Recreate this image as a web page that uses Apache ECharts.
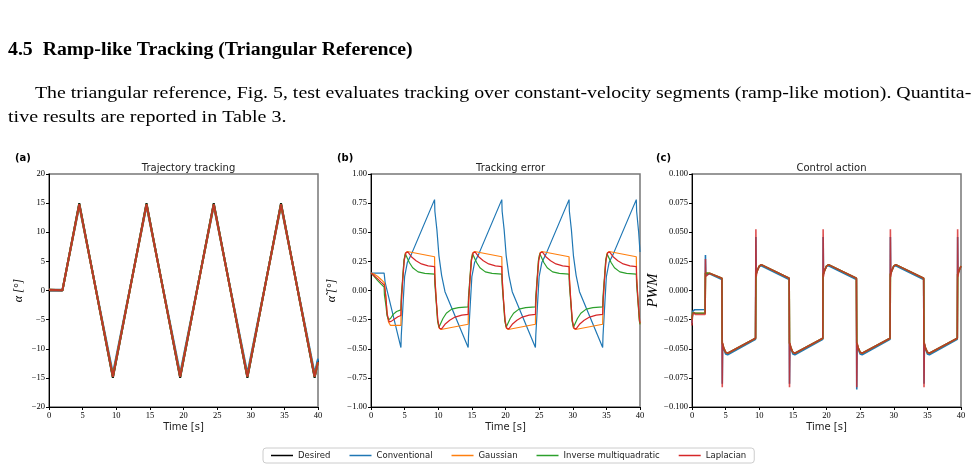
<!DOCTYPE html>
<html>
<head>
<meta charset="utf-8">
<script src="https://cdn.jsdelivr.net/npm/echarts@6/dist/echarts.min.js"></script>
<style>
  html, body { margin: 0; padding: 0; background: #fff; }
  #main { width: 976px; height: 472px; }
</style>
</head>
<body>
<div id="main"></div>
<script>
// (a) trajectory [t, alpha deg]
const desiredA = [[0,0],[2,0],[4.5,15],[9.5,-15],[14.5,15],[19.5,-15],[24.5,15],[29.5,-15],[34.5,15],[39.5,-15],[40,-12]]
const trajConv = [[0,0.15],[2,0.15],[4.5,14.5],[9.5,-14.25],[14.5,14.5],[19.5,-14.25],[24.5,14.5],[29.5,-14.25],[34.5,14.5],[39.5,-14.25],[40,-11.7]]
const trajGauss = [[0,0.15],[2,0.07],[4.5,14.7],[9.5,-14.7],[14.5,14.7],[19.5,-14.7],[24.5,14.7],[29.5,-14.7],[34.5,14.7],[39.5,-14.7],[40,-12.3]]
const trajImq = [[0,0.15],[2,0.03],[4.5,14.85],[9.5,-14.85],[14.5,14.85],[19.5,-14.85],[24.5,14.85],[29.5,-14.85],[34.5,14.85],[39.5,-14.85],[40,-12.3]]
const trajLap = [[0,0.15],[2,0.04],[4.5,14.8],[9.5,-14.8],[14.5,14.8],[19.5,-14.8],[24.5,14.8],[29.5,-14.8],[34.5,14.8],[39.5,-14.8],[40,-12.3]]

// (b) tracking error [t, deg]
const errConv = [[0,0.15],[1.95,0.15],[2.1,0.07],[4.45,-0.49],[4.5,-0.39],[4.8,-0.08],[5.0,0.12],[5.4,0.24],[6.0,0.31],[9.45,0.78],
  [9.5,0.68],[9.8,0.52],[10.1,0.3],[10.5,0.13],[11.0,-0.01],[14.45,-0.49],[14.5,-0.39],[14.8,-0.08],[15.0,0.12],[15.4,0.24],[16.0,0.31],[19.45,0.78],
  [19.5,0.68],[19.8,0.52],[20.1,0.3],[20.5,0.13],[21.0,-0.01],[24.45,-0.49],[24.5,-0.39],[24.8,-0.08],[25.0,0.12],[25.4,0.24],[26.0,0.31],[29.45,0.78],
  [29.5,0.68],[29.8,0.52],[30.1,0.3],[30.5,0.13],[31.0,-0.01],[34.45,-0.49],[34.5,-0.39],[34.8,-0.08],[35.0,0.12],[35.4,0.24],[36.0,0.31],[39.45,0.78],
  [39.5,0.68],[39.8,0.5],[40,0.33]]
const errGauss = [[0,0.15],[0.5,0.14],[1,0.12],[1.5,0.095],[2,0.065],[2.2,-0.05],[2.4,-0.2],[2.6,-0.27],[2.9,-0.3],[4.45,-0.3],
  [4.5,-0.12],[4.7,0.08],[4.9,0.25],[5.1,0.32],[5.4,0.335],[9.45,0.29],
  [9.5,0.12],[9.7,-0.08],[9.9,-0.25],[10.1,-0.32],[10.4,-0.335],[14.45,-0.29],
  [14.5,-0.12],[14.7,0.08],[14.9,0.25],[15.1,0.32],[15.4,0.335],[19.45,0.29],
  [19.5,0.12],[19.7,-0.08],[19.9,-0.25],[20.1,-0.32],[20.4,-0.335],[24.45,-0.29],
  [24.5,-0.12],[24.7,0.08],[24.9,0.25],[25.1,0.32],[25.4,0.335],[29.45,0.29],
  [29.5,0.12],[29.7,-0.08],[29.9,-0.25],[30.1,-0.32],[30.4,-0.335],[34.45,-0.29],
  [34.5,-0.12],[34.7,0.08],[34.9,0.25],[35.1,0.32],[35.4,0.335],[39.45,0.29],
  [39.5,0.12],[39.7,-0.08],[39.9,-0.25],[40,-0.29]]
const errImq = [[0,0.15],[0.5,0.12],[1,0.085],[1.5,0.055],[1.95,0.03],[2.0,-0.04],[2.2,-0.12],[2.4,-0.22],[2.6,-0.25],[2.9,-0.24],[3.3,-0.205],[3.8,-0.18],[4.45,-0.166],
  [4.5,-0.05],[4.7,0.1],[4.9,0.26],[5.1,0.315],[5.3,0.3],[5.7,0.24],[6.2,0.195],[7.0,0.16],[8.0,0.147],[9.45,0.14],
  [9.5,0.05],[9.7,-0.1],[9.9,-0.26],[10.1,-0.315],[10.3,-0.3],[10.7,-0.24],[11.2,-0.195],[12.0,-0.16],[13.0,-0.147],[14.45,-0.14],
  [14.5,-0.05],[14.7,0.1],[14.9,0.26],[15.1,0.315],[15.3,0.3],[15.7,0.24],[16.2,0.195],[17.0,0.16],[18.0,0.147],[19.45,0.14],
  [19.5,0.05],[19.7,-0.1],[19.9,-0.26],[20.1,-0.315],[20.3,-0.3],[20.7,-0.24],[21.2,-0.195],[22.0,-0.16],[23.0,-0.147],[24.45,-0.14],
  [24.5,-0.05],[24.7,0.1],[24.9,0.26],[25.1,0.315],[25.3,0.3],[25.7,0.24],[26.2,0.195],[27.0,0.16],[28.0,0.147],[29.45,0.14],
  [29.5,0.05],[29.7,-0.1],[29.9,-0.26],[30.1,-0.315],[30.3,-0.3],[30.7,-0.24],[31.2,-0.195],[32.0,-0.16],[33.0,-0.147],[34.45,-0.14],
  [34.5,-0.05],[34.7,0.1],[34.9,0.26],[35.1,0.315],[35.3,0.3],[35.7,0.24],[36.2,0.195],[37.0,0.16],[38.0,0.147],[39.45,0.14],
  [39.5,0.05],[39.7,-0.1],[39.9,-0.26],[40,-0.29]]
const errLap = [[0,0.15],[0.5,0.125],[1,0.1],[1.5,0.072],[2,0.045],[2.2,-0.05],[2.4,-0.2],[2.7,-0.27],[3.0,-0.265],[3.5,-0.245],[4.0,-0.225],[4.45,-0.214],
  [4.5,-0.1],[4.7,0.08],[4.95,0.26],[5.2,0.325],[5.5,0.33],[6.0,0.29],[6.7,0.255],[7.5,0.228],[8.5,0.212],[9.45,0.205],
  [9.5,0.1],[9.7,-0.08],[9.95,-0.26],[10.2,-0.325],[10.5,-0.33],[11.0,-0.29],[11.7,-0.255],[12.5,-0.228],[13.5,-0.212],[14.45,-0.205],
  [14.5,-0.1],[14.7,0.08],[14.95,0.26],[15.2,0.325],[15.5,0.33],[16.0,0.29],[16.7,0.255],[17.5,0.228],[18.5,0.212],[19.45,0.205],
  [19.5,0.1],[19.7,-0.08],[19.95,-0.26],[20.2,-0.325],[20.5,-0.33],[21.0,-0.29],[21.7,-0.255],[22.5,-0.228],[23.5,-0.212],[24.45,-0.205],
  [24.5,-0.1],[24.7,0.08],[24.95,0.26],[25.2,0.325],[25.5,0.33],[26.0,0.29],[26.7,0.255],[27.5,0.228],[28.5,0.212],[29.45,0.205],
  [29.5,0.1],[29.7,-0.08],[29.95,-0.26],[30.2,-0.325],[30.5,-0.33],[31.0,-0.29],[31.7,-0.255],[32.5,-0.228],[33.5,-0.212],[34.45,-0.205],
  [34.5,-0.1],[34.7,0.08],[34.95,0.26],[35.2,0.325],[35.5,0.33],[36.0,0.29],[36.7,0.255],[37.5,0.228],[38.5,0.212],[39.45,0.205],
  [39.5,0.1],[39.7,-0.08],[39.95,-0.26],[40,-0.28]]

// (c) control action [t, PWM]
const pwmConv = [[0,-0.028],[0.1,-0.018],[0.4,-0.0165],[1.95,-0.0163],[2.0,0.0305],[2.05,0.013],[2.2,0.0125],[2.6,0.0143],[4.45,0.0095],
  [4.5,-0.08],[4.55,-0.046],[4.7,-0.05],[5.0,-0.0545],[5.3,-0.0552],[9.45,-0.0418],[9.5,0.046],[9.55,0.014],[9.7,0.017],[10.0,0.0205],[10.3,0.0213],[14.45,0.0095],
  [14.5,-0.08],[14.55,-0.046],[14.7,-0.05],[15.0,-0.0545],[15.3,-0.0552],[19.45,-0.0418],[19.5,0.046],[19.55,0.014],[19.7,0.017],[20.0,0.0205],[20.3,0.0213],[24.45,0.0095],
  [24.5,-0.085],[24.55,-0.046],[24.7,-0.05],[25.0,-0.0545],[25.3,-0.0552],[29.45,-0.0418],[29.5,0.046],[29.55,0.014],[29.7,0.017],[30.0,0.0205],[30.3,0.0213],[34.45,0.0095],
  [34.5,-0.08],[34.55,-0.046],[34.7,-0.05],[35.0,-0.0545],[35.3,-0.0552],[39.45,-0.0418],[39.5,0.046],[39.55,0.014],[39.7,0.017],[40,0.0205]]
const pwmRbf = [[0,-0.025],[0.1,-0.019],[0.5,-0.0195],[1.95,-0.0195],[2.0,0.015],[2.6,0.0148],[4.45,0.0105],
  [4.5,-0.045],[4.7,-0.049],[5.0,-0.053],[5.3,-0.0538],[9.45,-0.041],[9.5,0.014],[9.7,0.017],[10.0,0.021],[10.3,0.0222],[14.45,0.0105],
  [14.5,-0.045],[14.7,-0.049],[15.0,-0.053],[15.3,-0.0538],[19.45,-0.041],[19.5,0.014],[19.7,0.017],[20.0,0.021],[20.3,0.0222],[24.45,0.0105],
  [24.5,-0.045],[24.7,-0.049],[25.0,-0.053],[25.3,-0.0538],[29.45,-0.041],[29.5,0.014],[29.7,0.017],[30.0,0.021],[30.3,0.0222],[34.45,0.0105],
  [34.5,-0.045],[34.7,-0.049],[35.0,-0.053],[35.3,-0.0538],[39.45,-0.041],[39.5,0.014],[39.7,0.017],[40,0.021]]
const pwmLap = [[0,-0.03],[0.05,-0.022],[0.2,-0.019],[0.5,-0.0205],[1.95,-0.0205],[2.0,0.027],[2.05,0.012],[2.2,0.012],[2.6,0.0148],[4.45,0.0105],
  [4.5,-0.083],[4.55,-0.045],[4.7,-0.049],[5.0,-0.053],[5.3,-0.0538],[9.45,-0.041],[9.5,0.0525],[9.55,0.012],[9.65,0.016],[10.0,0.021],[10.3,0.0222],[14.45,0.0105],
  [14.5,-0.083],[14.55,-0.045],[14.7,-0.049],[15.0,-0.053],[15.3,-0.0538],[19.45,-0.041],[19.5,0.0525],[19.55,0.012],[19.65,0.016],[20.0,0.021],[20.3,0.0222],[24.45,0.0105],
  [24.5,-0.083],[24.55,-0.045],[24.7,-0.049],[25.0,-0.053],[25.3,-0.0538],[29.45,-0.041],[29.5,0.0525],[29.55,0.012],[29.65,0.016],[30.0,0.021],[30.3,0.0222],[34.45,0.0105],
  [34.5,-0.083],[34.55,-0.045],[34.7,-0.049],[35.0,-0.053],[35.3,-0.0538],[39.45,-0.041],[39.5,0.0525],[39.55,0.012],[39.65,0.016],[40,0.021]]

const legendNames = ['Desired', 'Conventional', 'Gaussian', 'Inverse multiquadratic', 'Laplacian']
const colors = ['#000000', '#1f77b4', '#ff7f0e', '#2ca02c', '#d62728']
const panelTitles = ['Trajectory tracking', 'Tracking error', 'Control action']
const panelTags = ['(a)', '(b)', '(c)']

const gridLeft = [49, 371, 692]
const gridW = 269
const minus = s => s.replace('-', '\u2212')

const chart = echarts.init(document.getElementById('main'))

function xAx(i) {
  return {
    type: 'value', gridIndex: i, min: 0, max: 40, interval: 5,
    name: 'Time [s]', nameLocation: 'middle', nameGap: 15,
    nameTextStyle: { fontFamily: 'DejaVu Sans', fontSize: 10, color: '#222' },
    axisLine: { onZero: false, lineStyle: { color: '#000', width: 1 } },
    axisTick: { length: 3, lineStyle: { color: '#000' } },
    axisLabel: { fontFamily: 'Liberation Serif', fontSize: 8.5, color: '#000', margin: 4 },
    splitLine: { show: false }
  }
}
function yAx(i, min, max, step, dec, name, gap, nameStyle) {
  return {
    type: 'value', gridIndex: i, min: min, max: max, interval: step,
    name: name, nameLocation: 'middle', nameGap: gap,
    nameTextStyle: nameStyle,
    axisLine: { onZero: false, lineStyle: { color: '#000', width: 1 } },
    axisTick: { length: 3, lineStyle: { color: '#000' } },
    axisLabel: { fontFamily: 'Liberation Serif', fontSize: 8.5, color: '#000', margin: 4,
      formatter: v => minus(v.toFixed(dec)) },
    splitLine: { show: false }
  }
}

function line(name, data, gi, width, extra) {
  const ci = legendNames.indexOf(name)
  return Object.assign({
    name: name, type: 'line', data: data, xAxisIndex: gi, yAxisIndex: gi,
    showSymbol: false, symbol: 'none', animation: false,
    lineStyle: { color: colors[ci], width: width },
    itemStyle: { color: colors[ci] }
  }, extra || {})
}

const serifName = { fontFamily: 'Liberation Serif', fontSize: 12, fontStyle: 'italic', color: '#000' }

chart.setOption({
  animation: false,
  title: panelTitles.map((t, i) => ({
    text: t, left: gridLeft[i] + gridW / 2, top: 158, textAlign: 'center',
    textStyle: { fontFamily: 'DejaVu Sans', fontSize: 10, fontWeight: 'normal', color: '#222' }
  })),
  legend: {
    data: legendNames, left: 263, top: 448, padding: [3, 8],
    icon: 'rect', itemWidth: 22, itemHeight: 1.5, itemGap: 19,
    borderColor: '#ccc', borderWidth: 1, borderRadius: 3,
    textStyle: { fontFamily: 'DejaVu Sans', fontSize: 8.5, color: '#222' }
  },
  grid: gridLeft.map(l => ({
    left: l, top: 174, width: gridW, height: 233,
    show: true, borderColor: '#777', borderWidth: 1.5, backgroundColor: 'transparent'
  })),
  xAxis: [xAx(0), xAx(1), xAx(2)],
  yAxis: [
    yAx(0, -20, 20, 5, 0, 'α [°]', 24, serifName),
    yAx(1, -1, 1, 0.25, 2, 'α̃ [°]', 33, serifName),
    yAx(2, -0.1, 0.1, 0.025, 3, 'PWM', 30, Object.assign({}, serifName, { fontSize: 15 }))
  ],
  series: [
    line('Desired', desiredA, 0, 2),
    line('Conventional', trajConv, 0, 2),
    line('Gaussian', trajGauss, 0, 2),
    line('Inverse multiquadratic', trajImq, 0, 2),
    line('Laplacian', trajLap, 0, 2, { lineStyle: { color: colors[4], width: 2, opacity: 0.85 } }),
    line('Conventional', errConv, 1, 1.2),
    line('Gaussian', errGauss, 1, 1.2),
    line('Inverse multiquadratic', errImq, 1, 1.2),
    line('Laplacian', errLap, 1, 1.2),
    line('Conventional', pwmConv, 2, 1.6),
    line('Gaussian', pwmRbf, 2, 1.6),
    line('Inverse multiquadratic', pwmRbf, 2, 1.6),
    line('Laplacian', pwmLap, 2, 1.6, { lineStyle: { color: colors[4], width: 1.6, opacity: 0.8 } })
  ],
  graphic: [
    { type: 'text', x: 8, y: 41, scaleX: 1.07, style: { text: '4.5  Ramp-like Tracking (Triangular Reference)',
      font: 'bold 18.5px "Liberation Serif"', fill: '#000' } },
    { type: 'text', x: 35, y: 84, scaleX: 1.134, style: { text: 'The triangular reference, Fig. 5, test evaluates tracking over constant-velocity segments (ramp-like motion). Quantita-',
      font: '17.5px "Liberation Serif"', fill: '#000' } },
    { type: 'text', x: 8, y: 108.5, scaleX: 1.145, style: { text: 'tive results are reported in Table 3.',
      font: '17.5px "Liberation Serif"', fill: '#000' } },
    { type: 'text', x: 15, y: 153, style: { text: panelTags[0], font: 'bold 10px "DejaVu Sans"', fill: '#000' } },
    { type: 'text', x: 337, y: 153, style: { text: panelTags[1], font: 'bold 10px "DejaVu Sans"', fill: '#000' } },
    { type: 'text', x: 656, y: 153, style: { text: panelTags[2], font: 'bold 10px "DejaVu Sans"', fill: '#000' } }
  ]
})
</script>
</body>
</html>
